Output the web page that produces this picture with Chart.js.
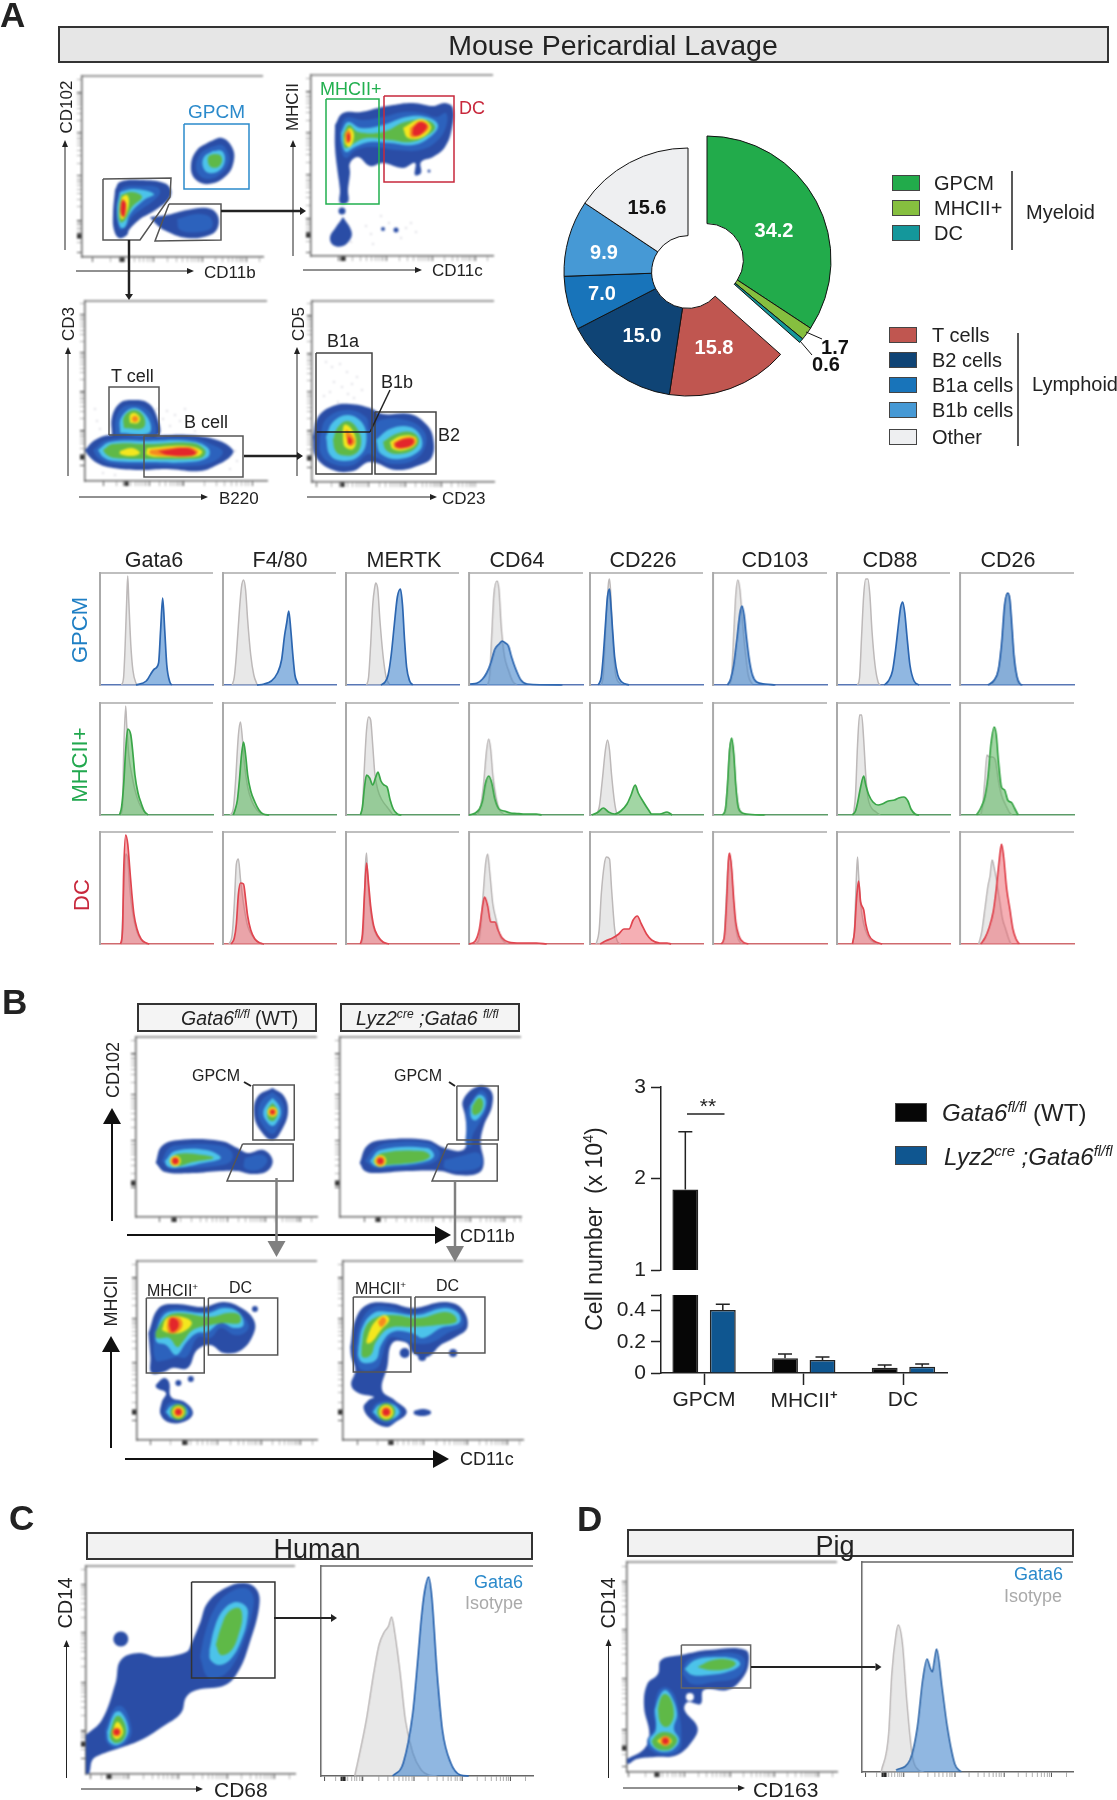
<!DOCTYPE html>
<html>
<head>
<meta charset="utf-8">
<title>Mouse, human and pig pericardial lavage</title>
<script src="https://cdn.jsdelivr.net/npm/chart.js@4/dist/chart.umd.min.js"></script>
<style>
  html, body { margin: 0; padding: 0; background: #fff; }
  #page { position: relative; width: 1117px; height: 1800px; overflow: hidden; font-family: "Liberation Sans", Arial, sans-serif; color: #222; }
  #page canvas { position: absolute; }
  .lab { position: absolute; white-space: nowrap; line-height: 1; z-index: 6; }
  .lab sup { font-size: 0.62em; line-height: 0; }
  .box { position: absolute; box-sizing: border-box; border: 2px solid #333; }
  .sw { position: absolute; box-sizing: border-box; border: 1.5px solid #444; }
  svg { position: absolute; left: 0; top: 0; z-index: 5; }
</style>
</head>
<body>
<div id="page"></div>
<script>
// ---- pie
const pieLabels = ['GPCM', 'MHCII+', 'DC', 'T cells', 'B2 cells', 'B1a cells', 'B1b cells', 'Other'];
const pieValues = [34.2, 1.7, 0.6, 15.8, 15.0, 7.0, 9.9, 15.6];
const pieColors = ['#22ab4b', '#86bf3f', '#14979b', '#c05650', '#0f4475', '#1874ba', '#4699d5', '#eeeff1'];

// ---- bars (cell number x 10^4)
const barCategories = ['GPCM', 'MHCII', 'DC'];
const wtValues = [1.88, 0.094, 0.034];
const wtErrTop = [2.51, 0.121, 0.051];
const koValues = [0.404, 0.083, 0.04];
const koErrTop = [0.44, 0.102, 0.057];
const upperTicks = [1, 2, 3];
const lowerTicks = [0, 0.2, 0.4, 0.5];

// ---- histograms, each trace is x,y pairs
const histTitles = ['Gata6', 'F4/80', 'MERTK', 'CD64', 'CD226', 'CD103', 'CD88', 'CD26'];
const gpcmGray = [
  [21,0,23,8,24.5,40,26,85,27,109,28,85,30,40,32,15,35,2,37,0],
  [9,0,11,8,13,30,16,75,18,98,20,105,22,95,24,65,27,30,30,10,33,1],
  [20,0,22,8,24,40,26,80,28,98,29,102,31,95,33,65,36,30,39,8,42,1],
  [18,0,20,10,22,50,24,90,27,104,29,95,31,60,34,30,38,15,42,4,46,0],
  [11,0,13,10,16,70,18,102,19,106,20,95,22,50,25,10,30,1],
  [16,0,18,10,20,50,22,90,24,105,26,95,28,70,31,35,34,10,38,1],
  [20,0,22,8,24,50,26,90,28,106,30,106,32,90,34,55,37,20,40,3,42,0],
  [30,0,34,6,38,20,41,50,44,85,46,92,48,85,50,55,53,18,56,3,58,0]
];
const gpcmBlue = [
  [35,0,45,4,53,16,57,22,59,55,61,87,63,55,65,20,68,3,70,0],
  [33,0,40,1,47,4,53,12,57,25,60,50,62,62,64,74,66,55,68,30,70,10,73,1],
  [34,0,38,3,41,10,44,30,47,60,50,88,53,96,55,80,57,45,59,18,62,4,65,0],
  [1,1,8,2,13,6,17,12,21,22,25,36,29,41,32,44,35,42,38,39,41,28,45,16,50,5,56,1,90,0],
  [8,0,11,8,13,30,15,60,17,88,19,96,20,85,22,55,24,28,27,10,31,3,38,0],
  [14,0,17,6,20,20,23,45,26,72,28,79,30,70,32,50,35,25,38,10,42,3,50,1,60,0],
  [46,0,50,4,54,14,57,35,60,62,62,78,64,83,66,72,68,50,71,20,75,4,80,0],
  [27,0,33,5,37,15,40,40,43,80,46,92,48,86,50,60,52,30,55,8,58,1,60,0]
];
const mhcGray = [
  [20,0,22,10,23,60,25,109,26,90,28,60,31,40,34,25,38,12,42,5,46,0],
  [7,0,10,6,12,30,15,80,17,93,19,75,21,50,24,28,28,14,33,5,38,1,42,0],
  [14,0,16,8,18,50,20,85,22,98,24,95,26,70,28,42,31,25,35,15,40,8,45,1],
  [8,0,11,8,14,30,17,65,19,76,21,65,23,40,26,18,29,6,33,1],
  [6,0,9,8,12,35,15,65,17,75,19,65,21,40,24,12,26,2,28,0],
  [10,0,12,6,14,30,16,65,18,75,20,60,22,30,25,6,30,0],
  [16,0,18,20,20,70,22,100,24,100,26,75,28,40,30,18,33,8,38,3,42,0],
  [20,0,22,10,24,35,26,60,28,58,31,58,34,55,37,35,40,20,44,10,48,2,50,0]
];
const mhcGreen = [
  [19,0,21,8,23,30,25,65,27,86,30,80,32,62,34,40,37,22,40,12,43,4,47,0],
  [10,0,12,6,14,15,16,35,18,60,20,73,22,60,24,40,27,24,31,13,35,5,39,1,45,0],
  [14,0,16,8,18,28,20,40,23,37,26,30,29,38,31,43,34,34,37,30,40,28,43,15,46,6,50,1,54,0],
  [0,0,6,2,10,6,13,14,16,32,19,39,22,32,25,16,29,6,34,4,40,2,46,1.5,52,1,65,1,70,0],
  [2,0,8,3,13,7,18,3,24,1,30,4,36,11,40,20,44,30,47,22,52,13,57,5,60,1,68,1,75,3,80,0],
  [9,0,12,6,14,30,16,65,18,77,20,62,22,30,24,10,27,3,32,1,50,0],
  [15,0,18,4,20,12,23,28,26,39,28,30,31,20,35,13,40,10,44,11,50,14,56,15,60,17,65,18,69,14,72,6,76,1,80,0],
  [16,0,20,7,24,18,27,38,30,72,33,88,35,80,37,55,40,28,43,25,46,15,50,12,53,6,56,0]
];
const dcGray = [
  [21,0,23,50,25,90,27,85,29,55,32,30,36,12,41,3,46,0],
  [6,0,9,10,11,40,13,80,15,85,17,65,20,40,24,18,30,6,36,1,40,0],
  [15,0,17,15,19,80,20,91,21,70,23,40,26,20,30,8,36,2,40,0],
  [6,0,10,6,13,40,16,80,18,90,20,72,23,40,26,25,30,8,34,2,38,0],
  [6,0,9,15,11,50,14,80,16,87,19,85,21,55,24,15,27,2,30,0],
  [9,0,11,10,13,50,15,85,17,85,19,55,21,25,24,6,28,0],
  [15,0,17,15,19,70,20,87,21,70,23,40,26,20,30,8,34,3,40,0],
  [18,0,21,12,24,35,27,58,29,68,31,84,33,76,35,65,38,45,41,25,44,15,47,5,49,0]
];
const dcRed = [
  [20,0,22,15,23,70,25,109,27,100,29,75,31,50,33,30,36,15,40,5,45,1,48,0],
  [8,0,11,6,13,20,15,50,17,61,20,60,22,45,24,28,27,14,31,5,36,1,40,0],
  [14,0,16,10,18,50,20,81,22,60,24,38,27,18,31,8,36,2,42,0],
  [0,0,6,3,10,15,13,37,15,47,18,38,21,22,25,22,28,14,32,6,38,2,50,1,65,1,75,0],
  [10,0,15,3,22,6,28,10,33,15,38,15,42,24,46,28,50,20,55,10,60,4,68,1,75,1,79,0],
  [8,0,11,8,13,40,15,85,16,91,18,75,20,45,22,22,25,8,29,2,34,0],
  [15,0,17,12,19,45,21,63,23,42,26,34,28,20,31,9,36,3,44,0],
  [20,0,24,6,28,16,32,32,35,55,38,85,40,100,42,88,45,55,48,35,51,15,54,5,57,0]
];
const humanIsotype = [32,0,43,56,50,103,55,131,60,144,64,150,67,159,70,143,75,103,80,56,87,23,95,6,102,1,110,0];
const humanGata6 = [68,0,78,13,87,63,92,119,95,156,98,183,102,199,105,179,110,103,115,46,123,13,132,1,140,0];
const pigIsotype = [18,0,25,38,28,98,32,138,34,147,38,128,42,72,47,18,53,2,58,0];
const pigGata6 = [32,2,45,12,52,45,57,92,61,113,64,104,66,100,68,112,70,123,75,85,80,45,87,8,93,0];

// ---- flow density plots: contours are [level, x,y,x,y...], dots are [level, x, y, spread]
const a1Contours = [
  [0, 127,115,140,119,150,110,152,97,145,82,127,73,113,78,109,92,115,107],
  [1, 129,110,140,112,146,104,147,95,140,84,127,78,117,82,114,92,119,104],
  [2, 131,106,140,106,143,97,138,87,127,84,121,90,122,100],
  [3, 132,103,138,102,140,96,136,90,129,90,126,95,127,101],
  [0, 33,67,38,75,58,77,82,74,89,67,87,58,75,48,65,42,58,38,47,27,45,22,37,19,32,27,31,43],
  [1, 37,65,42,70,58,71,75,70,78,64,70,55,60,48,50,40,44,30,38,27,36,35,35,50],
  [2, 38,65,52,68,72,63,62,57,48,43,43,30,38,30,35,47],
  [3, 39,62,50,65,60,60,50,50,43,37,38,35,37,50],
  [4, 40,60,45,62,47,55,43,40,39,38,38,50],
  [6, 41,58,44,53,42,40,39,43,39,53],
  [0, 68,40,85,42,105,47,125,49,135,43,136,30,128,22,105,19,82,27,72,35],
  [1, 95,38,115,43,128,40,130,30,118,25,98,27]
];
const a1Gates = [
  [21,78,89,79,88,60,58,17,21,17],
  [87,53,139,53,139,17,73,16],
  [102,133,167,133,167,68,102,68]
];
const a1XTicks = [10,71,120,164];
const a1YTicks = [5,37,81,124,165];
const a2Contours = [
  [0, 24,131,32,143,50,144,67,148,82,151,102,153,122,150,134,153,142,148,141,128,134,109,122,99,110,94,110,83,104,81,104,93,92,88,72,93,59,90,47,99,39,93,39,83,37,66,37,54,29,53,29,66,26,89,24,109],
  [1, 29,126,35,138,52,136,72,139,92,144,112,143,125,139,135,143,135,129,125,114,109,106,85,106,62,109,45,106,35,98,30,106],
  [2, 30,123,37,134,50,128,72,131,95,139,115,139,127,131,119,119,102,111,79,113,59,114,44,109,35,104,31,113],
  [3, 32,121,38,131,47,124,72,124,94,134,115,136,124,129,117,121,100,114,79,116,55,118,40,111,34,108],
  [4, 34,123,39,128,43,121,39,109,34,113],
  [4, 92,128,110,137,120,129,112,119,97,118],
  [5, 34,123,38,126,40,119,38,113,35,114],
  [5, 99,128,110,135,118,129,110,121,100,119],
  [6, 36,121,38,123,39,116,37,114],
  [6, 102,128,109,134,116,130,109,121,102,121],
  [0, 32,39,40,26,40,18,32,10,22,11,19,19,25,29,30,36]
];
const a2Dots = [[0,31,45,3.5],[0,72,27,2],[0,85,26,2.5],[0,118,85,1.5]];
const a2Gates = [
  [15,157,68,157,68,52,15,52],
  [73,160,143,160,143,74,73,74]
];
const a2Speck = [[55,30],[60,22],[78,33],[90,18],[100,33],[62,12],[105,24],[95,28],[40,14],[70,40]];
const a2XTicks = [27,75,121,164];
const a2YTicks = [4,38,81,123,165];
const a3Contours = [
  [0, 27,46,27,64,35,78,48,81,63,78,72,64,73,46],
  [1, 30,46,31,63,38,74,49,76,60,73,68,63,69,46],
  [2, 35,48,36,63,49,73,63,63,64,48],
  [3, 39,53,39,64,49,71,59,64,58,53],
  [4, 45,58,45,66,50,68,55,63,53,58],
  [0, 0,31,10,41,25,46,65,45,102,46,132,41,148,31,145,24,132,16,115,10,82,12,55,11,28,13,12,18,3,26],
  [1, 8,31,22,41,65,43,105,43,128,36,138,29,128,19,105,15,65,16,28,17,13,23],
  [2, 13,31,25,39,65,40,105,40,123,33,123,24,105,19,65,19,28,20,18,24],
  [3, 18,31,28,37,65,37,107,38,120,31,118,24,105,22,62,22,30,23,22,26],
  [4, 35,30,47,33,55,28,47,25,35,27],
  [4, 62,33,102,35,117,30,113,25,82,24,62,26],
  [5, 65,31,102,34,113,30,110,26,82,25,65,27],
  [6, 73,30,102,33,111,28,105,25,82,26]
];
const a3Dots = [[5,50,62,3]];
const a3Gates = [
  [24,46,24,94,74,94,74,46],
  [59,45,158,45,158,4,59,4]
];
const a3Speck = [[12,60],[15,52],[78,62],[85,55],[90,66],[95,60],[100,72],[108,58],[82,70],[18,8],[30,6],[150,30],[152,20],[145,12],[10,72],[110,50],[72,72],[122,62]];
const a3XTicks = [18,64,99,167];
const a3YTicks = [16,51,90,128,166];
const a4Contours = [
  [0, 1,45,6,65,21,76,38,78,58,74,71,68,98,68,114,58,121,45,120,25,108,17,84,12,58,20,41,11,21,12,4,25],
  [1, 8,45,14,63,34,72,54,65,58,52,68,62,94,62,111,52,114,38,104,23,81,18,63,25,56,28,41,17,21,18,9,28],
  [2, 14,45,21,60,36,67,51,58,54,38,46,25,31,21,18,27],
  [2, 64,42,78,53,98,55,109,45,108,32,88,23,69,28],
  [3, 21,42,26,55,36,61,46,52,49,38,43,28,29,27,23,32],
  [3, 71,40,84,48,99,50,107,42,101,32,84,28,74,32],
  [4, 31,42,32,57,38,55,44,42,41,33,33,35],
  [4, 78,40,89,46,103,45,104,38,93,32,81,33],
  [5, 34,45,34,52,39,48,43,40,38,36],
  [5, 81,39,91,44,102,44,103,38,93,34,83,34],
  [6, 36,46,40,42,39,38,36,38],
  [6, 83,39,92,43,101,43,101,38,92,34,84,35]
];
const a4Gates = [
  [4,129,60,129,60,8,4,8],
  [4,50,58,50],
  [58,50,78,92],
  [63,70,124,70,124,8,63,8]
];
const a4Speck = [[14,120],[20,115],[28,118],[35,110],[22,100],[30,95],[40,98],[45,105],[18,90],[36,88],[42,84],[26,80],[50,92],[12,86],[2,2]];
const a4XTicks = [4,56,93,129];
const a4YTicks = [15,52,90,129,167];
const b1Contours = [
  [0, 132,129,143,121,147,106,142,89,132,77,120,87,114,104,118,121],
  [1, 132,125,141,116,143,104,138,91,132,83,123,91,118,104,122,117],
  [2, 132,119,138,112,140,104,137,96,132,91,126,96,123,104,126,112],
  [3, 132,114,136,109,137,104,135,98,132,96,128,98,127,104,128,109],
  [0, 19,54,25,71,42,77,82,76,98,69,108,64,123,67,132,57,127,46,112,43,98,46,82,46,55,44,28,45],
  [1, 25,56,32,69,45,72,78,72,92,66,92,56,78,51,45,49,32,49],
  [1, 105,59,122,62,127,56,118,47,105,49],
  [2, 28,56,38,66,68,67,82,59,65,54,38,49,30,51],
  [3, 32,56,40,63,65,62,75,59,55,55,40,51]
];
const b1Dots = [[4,132,105,5],[5,132,105,3.5],[6,132,105,2.2],[4,38,56,5.5],[5,38,56,4],[6,38,56,3]];
const b1Gates = [
  [113,132,153,132,153,77,113,77],
  [103,73,152,73,152,36,88,36]
];
const b2Contours = [
  [0, 19,54,26,71,41,77,84,77,101,69,119,67,123,81,121,101,119,117,134,131,146,126,147,111,139,91,136,74,139,54,134,44,114,42,97,46,64,46,34,44,24,46],
  [1, 122,107,135,126,142,122,142,109,136,96,128,81,127,71,122,71,122,87],
  [2, 126,111,134,122,140,119,140,109,132,97,127,99],
  [3, 128,111,134,119,138,116,137,107,131,102,128,104],
  [1, 24,56,34,69,47,74,84,74,96,66,94,57,81,52,47,49,34,49],
  [1, 101,57,117,61,134,64,136,51,117,46,101,49],
  [2, 29,56,39,67,84,69,91,61,81,55,47,51,34,51],
  [3, 32,56,41,64,79,66,87,61,79,56,46,52,36,52]
];
const b2Dots = [[4,39,56,6],[5,39,56,4.5],[6,39,56,3]];
const b2Gates = [
  [113,131,153,131,153,77,113,77],
  [104,73,152,73,152,36,89,36]
];
const b3Contours = [
  [0, 11,107,21,132,38,136,64,133,84,138,101,132,113,120,113,107,101,90,84,87,71,95,58,90,49,72,34,72,26,68,14,67,13,83],
  [1, 16,107,24,127,38,132,64,128,84,135,99,127,108,115,104,107,94,105,81,112,71,102,59,103,48,83,38,83,28,80,18,80],
  [2, 18,107,26,125,38,129,68,127,84,132,98,128,103,115,94,112,81,117,68,108,58,107,48,98,38,85,28,95,19,98],
  [3, 18,108,28,123,41,127,71,123,88,127,99,125,99,117,84,117,71,115,54,110,44,98,39,93,31,102,19,102],
  [4, 24,110,29,122,44,123,53,117,44,108,31,107],
  [5, 29,113,31,122,41,122,44,115,39,108,31,107],
  [6, 31,115,33,122,39,120,40,113,34,108],
  [0, 18,55,26,62,31,58,33,43,46,38,54,28,49,20,33,17,23,25,24,38,28,47,19,52],
  [1, 26,28,31,37,43,37,52,28,46,21,33,21],
  [2, 28,28,33,34,43,35,49,28,44,22,34,22]
];
const b3Dots = [[0,40,57,3],[0,52,61,3],[0,114,131,3],[3,40,28,8],[4,40,28,6],[5,40,28,4.5],[6,40,28,3]];
const b3Gates = [
  [9,142,65,142,65,67,9,67],
  [69,142,136,142,136,85,69,85]
];
const b4Contours = [
  [0, 7,93,12,120,23,135,45,137,68,132,98,138,115,132,121,113,108,102,95,95,82,83,68,87,62,97,48,97,43,73,38,50,50,40,62,28,50,17,42,13,28,20,20,32,25,40,30,43,15,47,8,55,12,70,8,83],
  [1, 12,93,17,117,28,132,45,133,68,127,98,135,113,128,117,115,102,107,85,97,68,97,48,103,42,97,38,83,33,72,18,70,13,80],
  [2, 15,93,19,113,30,127,45,128,72,125,98,132,112,127,113,117,95,112,78,102,67,107,48,108,37,95,32,80,20,77,15,83],
  [3, 18,93,22,113,33,123,48,125,75,122,98,128,108,125,110,118,92,115,68,113,45,112,32,98,27,85,19,83],
  [4, 25,107,30,117,40,125,45,120,37,110,28,98,23,97],
  [5, 34,118,39,123,42,119,37,113],
  [1, 27,28,33,37,48,38,57,28,50,18,37,18],
  [2, 29,28,35,35,47,36,55,28,48,21,37,21],
  [0, 69,29,77,31,85,29,85,26,77,24,69,26]
];
const b4Dots = [[3,42,28,9],[4,42,28,7],[5,42,28,5],[6,42,28,3.5],[0,60,87,5],[0,107,87,4],[0,77,83,4]];
const b4Gates = [
  [10,143,66,143,66,68,10,68],
  [70,143,138,143,138,87,70,87]
];
const humanContours = [
  [0, 0,39,15,54,28,91,33,114,50,121,68,117,95,122,100,131,108,151,115,171,132,186,150,191,162,184,164,167,155,131,145,104,132,89,105,84,95,77,90,61,72,47,52,34,32,26,13,19,6,14,3,1,0,1],
  [1, 108,117,113,142,122,166,135,181,150,186,158,179,158,164,150,134,138,107,125,96,115,97],
  [2, 117,124,122,147,130,164,142,172,152,167,153,156,148,136,138,116,127,109,118,114],
  [3, 123,129,128,147,135,162,145,166,148,157,145,141,138,124,128,119],
  [1, 18,44,27,66,35,67,42,51,42,37,30,26,20,31],
  [2, 20,42,27,61,33,62,40,47,38,36,30,29,22,32],
  [3, 23,42,28,57,33,57,38,44,35,34,28,31,23,36],
  [4, 25,42,29,52,33,49,35,41,30,35,26,37]
];
const humanDots = [[0,33,135,7.5],[5,29,42,4.5],[6,29,42,3]];
const humanGates = [[100,192,179,192,179,96,100,96]];
const humanXTicks = [4,40,88,134,179];
const humanYTicks = [16,44,92,142,190];
const pigContours = [
  [0, 0,13,16,23,21,38,16,65,19,88,29,98,32,112,51,117,77,122,111,122,114,108,107,92,94,82,72,82,69,68,57,70,54,62,66,45,62,32,47,17,26,15,9,13,1,8],
  [1, 52,98,57,112,81,118,104,118,111,110,104,95,81,90,61,88],
  [2, 54,103,64,112,84,115,102,113,106,107,94,100,77,97,61,97],
  [3, 66,105,81,112,97,112,102,108,94,103,77,102],
  [1, 25,58,29,80,36,85,44,78,49,58,51,38,49,22,36,17,22,22,19,32,26,43],
  [2, 26,62,31,77,36,82,42,75,47,58,44,43,49,32,44,23,36,20,26,23,21,32,27,42],
  [3, 29,63,32,75,36,78,41,73,44,58,41,48,36,45,31,50],
  [3, 23,31,29,38,36,40,44,37,47,31,41,23,32,22,26,25],
  [4, 28,31,36,36,42,31,36,26]
];
const pigDots = [[5,36,31,5],[6,36,31,3],[7,59,75,4]];
const pigGates = [[51,127,116,127,116,84,51,84]];
const pigXTicks = [1,54,97,138,180];
const pigYTicks = [6,43,94,143,191];

// colours of the density levels, sparse to dense, the last one is a hole
const levelColors = ['#2a4da6', '#2c62bd', '#4cc3ea', '#5fb947', '#f4e71e', '#f58a1f', '#e3262b', '#ffffff'];
const BLUE = '#2b8acb', GREEN = '#22b04f', RED = '#c8283c', GATE = '#555';

const page = document.getElementById('page');
const svg = document.createElementNS('http://www.w3.org/2000/svg', 'svg');
svg.setAttribute('width', 1117);
svg.setAttribute('height', 1800);
page.appendChild(svg);

function label(html, x, y, size, color, o) {
  o = o || {};
  const d = document.createElement('div');
  d.className = 'lab';
  d.innerHTML = html;
  d.style.left = x + 'px';
  d.style.top = y + 'px';
  d.style.fontSize = size + 'px';
  if (color) d.style.color = color;
  if (o.bold) d.style.fontWeight = 'bold';
  let tx = o.align === 'c' ? '-50%' : o.align === 'r' ? '-100%' : '0';
  let t = 'translate(' + tx + ',-50%)';
  if (o.rot) t = 'translate(-50%,-50%) rotate(-90deg)';
  d.style.transform = t;
  page.appendChild(d);
}

function box(x, y, w, h, fill, cls) {
  const d = document.createElement('div');
  d.className = cls || 'box';
  d.style.cssText += 'left:' + x + 'px;top:' + y + 'px;width:' + w + 'px;height:' + h + 'px;background:' + fill;
  page.appendChild(d);
}

function line(x1, y1, x2, y2, lw, color) {
  const l = document.createElementNS('http://www.w3.org/2000/svg', 'line');
  l.setAttribute('x1', x1); l.setAttribute('y1', y1);
  l.setAttribute('x2', x2); l.setAttribute('y2', y2);
  l.setAttribute('stroke', color); l.setAttribute('stroke-width', lw);
  svg.appendChild(l);
}

function arrow(x1, y1, x2, y2, lw, color, hl, hw) {
  const len = Math.hypot(x2 - x1, y2 - y1), ux = (x2 - x1) / len, uy = (y2 - y1) / len;
  const bx = x2 - ux * hl, by = y2 - uy * hl;
  line(x1, y1, bx, by, lw, color);
  const p = document.createElementNS('http://www.w3.org/2000/svg', 'polygon');
  p.setAttribute('points', x2 + ',' + y2 + ' ' + (bx - uy * hw / 2) + ',' + (by + ux * hw / 2) + ' ' + (bx + uy * hw / 2) + ',' + (by - ux * hw / 2));
  p.setAttribute('fill', color);
  svg.appendChild(p);
}

function canvasAt(x, y, w, h) {
  const c = document.createElement('canvas');
  c.width = w; c.height = h;
  c.style.left = x + 'px'; c.style.top = y + 'px';
  c.style.width = w + 'px'; c.style.height = h + 'px';
  page.appendChild(c);
  return c;
}

function pairs(flat) {
  const out = [];
  for (let i = 0; i < flat.length; i += 2) out.push({ x: flat[i], y: flat[i + 1] });
  return out;
}

function topLine(color) {
  return {
    id: 'topLine',
    afterDraw(chart) {
      const a = chart.chartArea, c = chart.ctx;
      c.save();
      c.strokeStyle = color;
      c.lineWidth = 1.5;
      c.beginPath(); c.moveTo(a.left, a.top); c.lineTo(a.right, a.top); c.stroke();
      c.restore();
    }
  };
}

// logicle style axis: majors, log minors between them, a thick mark at zero
function axisTicks(majors, thick, max) {
  const out = [];
  majors.forEach((m, i) => {
    out.push({ value: m, t: 1 });
    if (i < majors.length - 1) {
      for (let d = 2; d < 10; d++) out.push({ value: m + (majors[i + 1] - m) * Math.log10(d), t: 0 });
    }
  });
  if (thick !== null) [-1.5, 0, 1.5].forEach(k => out.push({ value: thick + k, t: 2 }));
  const last = majors[majors.length - 1], step = last - majors[majors.length - 2];
  for (let d = 2; d < 10; d++) {
    const v = last + step * Math.log10(d);
    if (v < max) out.push({ value: v, t: 0 });
  }
  return out.filter(k => k.value >= 0 && k.value <= max).sort((a, b) => a.value - b.value);
}

function tickAxis(max, ticks, axis) {
  return {
    type: 'linear', min: 0, max: max,
    afterBuildTicks: s => { s.ticks = ticks; },
    afterFit: s => { if (axis === 'x') s.height = 6; else s.width = 6; },
    ticks: { display: false, autoSkip: false },
    border: { color: '#666', width: 1.5 },
    grid: {
      drawOnChartArea: false, tickLength: 5,
      tickColor: c => c.tick && c.tick.t ? '#222' : '#999',
      tickWidth: c => c.tick && c.tick.t === 2 ? 2 : 0.8
    }
  };
}

// w is the width on the page, unitW the width of the x scale
function flowPlot(x, y, w, h, unitW, contours, dots, gates, gateColors, speck, xMajor, yMajor, xZero, yZero) {
  const sets = [];
  contours.forEach(row => {
    const pts = row.slice(1);
    sets.push({
      type: 'scatter', showLine: true, fill: 'shape', tension: 0.4, pointRadius: 0, clip: false,
      order: 10 - row[0], borderWidth: 0, borderColor: levelColors[row[0]], backgroundColor: levelColors[row[0]],
      data: pairs(pts.concat(pts.slice(0, 2)))
    });
  });
  (dots || []).forEach(d => {
    sets.push({
      type: 'bubble', order: 10 - d[0], clip: false, backgroundColor: levelColors[d[0]], borderWidth: 0,
      data: [{ x: d[1], y: d[2], r: d[3] }]
    });
  });
  sets.push({
    type: 'bubble', order: 20, backgroundColor: 'rgba(120,120,150,0.55)', borderWidth: 0,
    data: (speck || []).map(p => ({ x: p[0], y: p[1], r: 0.8 }))
  });
  const c = canvasAt(x - 6, y - 2, w + 8, h + 8);
  c.style.filter = 'blur(0.9px)';
  new Chart(c, {
    type: 'scatter',
    data: { datasets: sets },
    options: {
      responsive: false, animation: false, events: [],
      layout: { autoPadding: false, padding: { top: 2, right: 2 } },
      plugins: { legend: { display: false }, tooltip: { enabled: false } },
      scales: {
        x: tickAxis(unitW, axisTicks(xMajor, xZero, unitW), 'x'),
        y: tickAxis(h, axisTicks(yMajor, yZero, h), 'y')
      }
    },
    plugins: [topLine('#777')]
  });
  // gates go in their own canvas so they stay sharp over the blurred density
  const g = canvasAt(x - 6, y - 2, w + 8, h + 8);
  new Chart(g, {
    type: 'scatter',
    data: {
      datasets: gates.map((pts, i) => ({
        showLine: true, clip: false, fill: false, pointRadius: 0,
        borderColor: gateColors[i], borderWidth: 1.5,
        data: pairs(pts.length > 4 ? pts.concat(pts.slice(0, 2)) : pts)
      }))
    },
    options: {
      responsive: false, animation: false, events: [],
      layout: { autoPadding: false, padding: { top: 2, right: 2 } },
      plugins: { legend: { display: false }, tooltip: { enabled: false } },
      scales: {
        x: { type: 'linear', min: 0, max: unitW, display: true, afterFit: s => { s.height = 6; }, ticks: { display: false }, grid: { display: false }, border: { display: false } },
        y: { type: 'linear', min: 0, max: h, display: true, afterFit: s => { s.width = 6; }, ticks: { display: false }, grid: { display: false }, border: { display: false } }
      }
    }
  });
}

function histPlot(x, y, w, h, unitW, gray, col, lineCol, fillCol, baseCol, xMajor, xZero) {
  const c = canvasAt(x - 6, y - 2, w + 8, h + 8);
  new Chart(c, {
    type: 'scatter',
    data: {
      datasets: [
        { showLine: true, clip: false, fill: 'origin', pointRadius: 0, cubicInterpolationMode: 'monotone', borderColor: lineCol, backgroundColor: fillCol, borderWidth: 1.7, data: pairs(col) },
        { showLine: true, clip: false, fill: 'origin', pointRadius: 0, cubicInterpolationMode: 'monotone', borderColor: '#bdb9b9', backgroundColor: 'rgba(205,205,205,0.45)', borderWidth: 1.5, data: pairs(gray) }
      ]
    },
    options: {
      responsive: false, animation: false, events: [],
      layout: { autoPadding: false, padding: { top: 2, right: 2 } },
      plugins: { legend: { display: false }, tooltip: { enabled: false } },
      scales: {
        x: xMajor ? tickAxis(unitW, axisTicks(xMajor, xZero, unitW), 'x') : {
          type: 'linear', min: 0, max: unitW, afterFit: s => { s.height = 6; },
          ticks: { display: false }, grid: { display: false }, border: { color: baseCol, width: 1.5 }
        },
        y: {
          type: 'linear', min: 0, max: h, afterFit: s => { s.width = 6; },
          ticks: { display: false }, grid: { display: false }, border: { color: xMajor ? '#666' : '#aaa', width: xMajor ? 1.5 : 2 }
        }
      }
    },
    plugins: [topLine(xMajor ? '#666' : '#aaa')]
  });
}

// ---------- panel letters and header boxes
label('A', 0, 14, 35, '#222', { bold: true });
label('B', 2, 1001, 35, '#222', { bold: true });
label('C', 9, 1517, 35, '#222', { bold: true });
label('D', 577, 1518, 35, '#222', { bold: true });

box(58, 26, 1051, 37, '#e6e6e6');
label('Mouse Pericardial Lavage', 613, 45, 28.5, '#222', { align: 'c' });
box(137, 1003, 180, 29, '#f4f4f4');
box(340, 1003, 180, 29, '#f4f4f4');
label('<i>Gata6<sup>fl/fl</sup></i> (WT)', 181, 1019, 19.5);
label('<i>Lyz2<sup>cre</sup> ;Gata6 <sup>fl/fl</sup></i>', 356, 1019, 19.5);
box(86, 1532, 447, 28, '#f2f2f2');
label('Human', 317, 1549, 27, '#222', { align: 'c' });
box(627, 1529, 447, 28, '#f2f2f2');

// ---------- panel A flow plots
flowPlot(82, 76, 181, 181, 181, a1Contours, null, a1Gates, [GATE, GATE, BLUE], null, a1XTicks, a1YTicks, 40, 21);
flowPlot(311, 75, 182, 181, 182, a2Contours, a2Dots, a2Gates, [GREEN, RED], a2Speck, a2XTicks, a2YTicks, 32, 21);
flowPlot(85, 301, 182, 180, 182, a3Contours, a3Dots, a3Gates, [GATE, GATE], a3Speck, a3XTicks, a3YTicks, 41, 24);
flowPlot(312, 301, 182, 181, 182, a4Contours, null, a4Gates, ['#444', '#222', '#222', '#444'], a4Speck, a4XTicks, a4YTicks, 30, 24);

arrow(65, 250, 65, 140, 1, '#222', 7, 6);
arrow(76, 271, 194, 271, 1, '#222', 7, 6);
arrow(293, 256, 293, 140, 1, '#222', 7, 6);
arrow(303, 270, 422, 270, 1, '#222', 7, 6);
arrow(68, 476, 68, 347, 1, '#222', 7, 6);
arrow(79, 497, 208, 497, 1, '#222', 7, 6);
arrow(297, 476, 297, 347, 1, '#222', 7, 6);
arrow(307, 497, 437, 497, 1, '#222', 7, 6);
arrow(221, 211, 306, 211, 2.5, '#222', 6, 8);
arrow(129, 240, 129, 300, 2.5, '#222', 6, 8);
arrow(244, 456, 303, 456, 2.5, '#222', 6, 8);

label('CD102', 66, 107, 17, '#222', { rot: true });
label('MHCII', 292, 107, 17, '#222', { rot: true });
label('CD3', 68, 324, 17, '#222', { rot: true });
label('CD5', 298, 324, 17, '#222', { rot: true });
label('CD11b', 204, 272, 17);
label('CD11c', 432, 270, 17);
label('B220', 219, 498, 17);
label('CD23', 442, 498, 17);
label('GPCM', 188, 111, 19, BLUE);
label('MHCII+', 320, 89, 18, GREEN);
label('DC', 459, 108, 18, RED);
label('T cell', 111, 376, 18);
label('B cell', 184, 422, 18);
label('B1a', 327, 341, 18);
label('B1b', 381, 382, 18);
label('B2', 438, 435, 18);

// ---------- panel A pie, the myeloid slices sit in a second chart moved out
function piePart(x, y, show) {
  const c = canvasAt(x - 130, y - 130, 260, 260);
  new Chart(c, {
    type: 'doughnut',
    data: {
      labels: pieLabels,
      datasets: [{
        data: pieValues,
        backgroundColor: pieColors.map((col, i) => show(i) ? col : 'transparent'),
        borderColor: pieColors.map((col, i) => show(i) ? '#111' : 'transparent'),
        borderWidth: 1
      }]
    },
    options: {
      responsive: false, animation: false, events: [], radius: 124, cutout: 38,
      plugins: { legend: { display: false }, tooltip: { enabled: false } }
    }
  });
}
piePart(687.5, 272, i => i >= 3);
piePart(706.5, 260, i => i < 3);

const pieLabelX = [774, 0, 0, 714, 642, 602, 604, 647];
const pieLabelY = [230, 0, 0, 347, 335, 293, 252, 207];
pieValues.forEach((v, i) => {
  if (i === 1 || i === 2) return;
  label(v.toFixed(1), pieLabelX[i], pieLabelY[i], 20, i === 7 ? '#111' : '#fff', { align: 'c', bold: true });
});
label('1.7', 835, 347, 20, '#111', { align: 'c', bold: true });
label('0.6', 826, 364, 20, '#111', { align: 'c', bold: true });
line(806, 332, 822, 339, 1, '#111');
line(800, 341, 812, 355, 1, '#111');

// pie legend
const legendY = [175, 200, 225, 327, 352, 377, 402, 429];
const legendX = [892, 892, 892, 889, 889, 889, 889, 889];
pieLabels.forEach((name, i) => {
  box(legendX[i], legendY[i], 28, 16, pieColors[i], 'sw');
  label(name, legendX[i] + (i < 3 ? 42 : 43), legendY[i] + 8, 20);
});
line(1012, 171, 1012, 250, 1.5, '#222');
label('Myeloid', 1026, 212, 20);
line(1018, 333, 1018, 446, 1.5, '#222');
label('Lymphoid', 1032, 384, 20);

// ---------- panel A histograms
const histLeft = [99.5, 222.5, 345.5, 469, 589.5, 713, 836.5, 960];
const histTitleX = [154, 280, 404, 517, 643, 775, 890, 1008];
const histTop = [573, 703, 832];
const histRows = [
  { gray: gpcmGray, col: gpcmBlue, line: '#2c66b0', fill: 'rgba(70,135,205,0.6)', base: '#5877b5' },
  { gray: mhcGray, col: mhcGreen, line: '#3aa648', fill: 'rgba(85,180,90,0.55)', base: '#5c9c68' },
  { gray: dcGray, col: dcRed, line: '#e0454f', fill: 'rgba(235,95,105,0.5)', base: '#cf6a6e' }
];
histTitles.forEach((t, i) => {
  label(t, histTitleX[i], 561, 21.5, '#222', { align: 'c' });
  histRows.forEach((r, k) => histPlot(histLeft[i], histTop[k], 113.5, 112, 110, r.gray[i], r.col[i], r.line, r.fill, r.base));
});
label('GPCM', 80, 630, 22, '#1f7fc4', { rot: true });
label('MHCII+', 80, 765, 22, '#22a84f', { rot: true });
label('DC', 82, 895, 22, RED, { rot: true });

// ---------- panel B flow plots
const bXTicks1 = [23, 88, 125, 159], bXTicks2 = [24, 89, 126, 159];
const bXTicks3 = [13, 78, 120, 158], bXTicks4 = [14, 78, 121, 160];
const bYTicks1 = [30, 76, 122, 164], bYTicks2 = [20, 78, 122, 163];
flowPlot(136, 1037, 181, 180, 175, b1Contours, b1Dots, b1Gates, [GATE, GATE], null, bXTicks1, bYTicks1, 37, 34);
flowPlot(340, 1037, 181, 180, 175, b2Contours, b2Dots, b2Gates, [GATE, GATE], null, bXTicks2, bYTicks1, 37, 34);
flowPlot(137, 1261, 180, 179, 174, b3Contours, b3Dots, b3Gates, [GATE, GATE], null, bXTicks3, bYTicks2, 46, 28);
flowPlot(343, 1261, 180, 179, 175, b4Contours, b4Dots, b4Gates, [GATE, GATE], null, bXTicks4, bYTicks2, 47, 28);

label('CD102', 113, 1070, 18, '#222', { rot: true });
label('MHCII', 111, 1301, 18, '#222', { rot: true });
arrow(112, 1221, 112, 1108, 2, '#111', 16, 18);
arrow(111, 1448, 111, 1336, 2, '#111', 16, 18);
arrow(127, 1235, 451, 1235, 2, '#111', 16, 18);
arrow(125, 1459, 449, 1459, 2, '#111', 16, 18);
arrow(276.5, 1178, 276.5, 1257, 2.5, '#808080', 16, 18);
arrow(455, 1182, 455, 1262, 2.5, '#808080', 16, 18);
label('CD11b', 460, 1236, 18);
label('CD11c', 460, 1459, 18);
label('GPCM', 192, 1076, 16);
label('GPCM', 394, 1076, 16);
line(244, 1082, 251, 1086, 2, '#222');
line(449, 1082, 455, 1086, 2, '#222');
label('MHCII<sup>+</sup>', 147, 1291, 16);
label('MHCII<sup>+</sup>', 355, 1289, 16);
label('DC', 229, 1288, 16);
label('DC', 436, 1286, 16);

// ---------- panel B bars, two charts make the broken axis
const errorBars = {
  id: 'errorBars',
  afterDatasetsDraw(chart) {
    const y = chart.scales.y, c = chart.ctx;
    [wtErrTop, koErrTop].forEach((errs, d) => {
      const vals = d === 0 ? wtValues : koValues;
      chart.getDatasetMeta(d).data.forEach((bar, i) => {
        if (vals[i] > y.max || errs[i] < y.min || vals[i] < y.min) return;
        const top = y.getPixelForValue(errs[i]), bot = y.getPixelForValue(vals[i]);
        c.save();
        c.strokeStyle = '#222';
        c.lineWidth = 1.5;
        c.beginPath();
        c.moveTo(bar.x, bot); c.lineTo(bar.x, top);
        c.moveTo(bar.x - 7, top); c.lineTo(bar.x + 7, top);
        c.stroke();
        c.restore();
      });
    });
  }
};

function barPart(x, y, w, h, min, max, yTicks, showX, pad) {
  const c = canvasAt(x, y, w, h);
  new Chart(c, {
    type: 'bar',
    data: {
      datasets: [
        { data: wtValues.map((v, i) => ({ x: i, y: v })), backgroundColor: '#060606', borderColor: '#222', borderWidth: 1.5 },
        { data: koValues.map((v, i) => ({ x: i, y: v })), backgroundColor: '#0f5690', borderColor: '#222', borderWidth: 1.5 }
      ]
    },
    options: {
      responsive: false, animation: false, events: [],
      categoryPercentage: 0.752, barPercentage: 0.69,
      layout: { autoPadding: false, padding: pad },
      plugins: { legend: { display: false }, tooltip: { enabled: false } },
      scales: {
        x: {
          type: 'linear', min: -0.432, max: 2.437, display: showX, offset: false,
          afterBuildTicks: s => { s.ticks = barCategories.map((n, i) => ({ value: i })); },
          afterFit: s => { s.height = 12; s.paddingLeft = 0; s.paddingRight = 0; },
          ticks: { display: false },
          grid: { offset: false, drawOnChartArea: false, tickLength: 12, tickColor: '#222', tickWidth: 1.5 },
          border: { color: '#222', width: 1.5 }
        },
        y: {
          type: 'linear', min: min, max: max,
          afterBuildTicks: s => { s.ticks = yTicks.map(v => ({ value: v })); },
          afterFit: s => { s.width = 50; s.paddingTop = 0; s.paddingBottom = 0; },
          ticks: { color: '#222', padding: 5, autoSkip: false, font: { family: 'Liberation Sans', size: 21 }, callback: v => (v === 0.5 ? '' : String(v)) },
          grid: { drawOnChartArea: false, tickLength: 10, tickColor: '#222', tickWidth: 1.5 },
          border: { color: '#222', width: 1.5 }
        }
      }
    },
    plugins: [errorBars]
  });
}
// the hidden x axis of the upper part still holds 12px at the bottom of its canvas
barPart(611, 1075, 338, 207, 1, 3, upperTicks, false, { top: 12, bottom: 0, right: 2 });
barPart(611, 1289, 338, 96, 0, 0.5, lowerTicks, true, { top: 6, right: 2 });

label('GPCM', 704, 1398, 21, '#222', { align: 'c' });
label('MHCII<b><sup>+</sup></b>', 804, 1399, 21, '#222', { align: 'c' });
label('DC', 903, 1398, 21, '#222', { align: 'c' });
label('Cell number&nbsp; (x 10<sup>4</sup>)', 594, 1229, 23, '#222', { rot: true });
line(687, 1114, 724.5, 1114, 1.5, '#222');
label('**', 708, 1105, 21, '#222', { align: 'c' });
box(895, 1103, 32, 19, '#060606', 'sw');
box(895, 1146, 32, 19, '#0f5690', 'sw');
label('<i>Gata6<sup>fl/fl</sup></i> (WT)', 942, 1113, 24);
label('<i>Lyz2<sup>cre</sup> ;Gata6<sup>fl/fl</sup></i>', 944, 1157, 24);

// ---------- panel C
flowPlot(86, 1566, 209, 208, 198, humanContours, humanDots, humanGates, ['#333'], null, humanXTicks, humanYTicks, 22, 30);
histPlot(321, 1566, 211.5, 210, 201, humanIsotype, humanGata6, '#2c66b0', 'rgba(70,135,205,0.6)', '#777', [3, 40, 88, 134, 180], 21);
arrow(274, 1618, 337, 1618, 2, '#222', 6, 8);
arrow(66.5, 1778, 66.5, 1640, 1, '#222', 7, 6);
arrow(81, 1789, 203, 1789, 1, '#222', 7, 6);
label('CD14', 65, 1603, 20, '#222', { rot: true });
label('CD68', 214, 1789, 21);
label('Gata6', 523, 1582, 18, BLUE, { align: 'r' });
label('Isotype', 523, 1603, 18, '#aaa', { align: 'r' });

// ---------- panel D
flowPlot(627, 1562, 210, 210, 197, pigContours, pigDots, pigGates, ['#666'], null, pigXTicks, pigYTicks, 28, 24);
histPlot(862, 1562, 210.5, 210, 198, pigIsotype, pigGata6, '#3a6fae', 'rgba(70,135,205,0.6)', '#777', [3, 39, 87, 133, 178], 21);
arrow(751, 1667, 881.5, 1667, 2, '#222', 6, 8);
arrow(608.5, 1778, 608.5, 1639, 1, '#222', 7, 6);
arrow(623, 1788, 745, 1788, 1, '#222', 7, 6);
label('CD14', 608, 1603, 20, '#222', { rot: true });
label('CD163', 753, 1789, 21);
label('Gata6', 1063, 1574, 18, BLUE, { align: 'r' });
label('Isotype', 1062, 1596, 18, '#aaa', { align: 'r' });
label('Pig', 835, 1546, 27, '#222', { align: 'c' });
</script>
</body>
</html>
